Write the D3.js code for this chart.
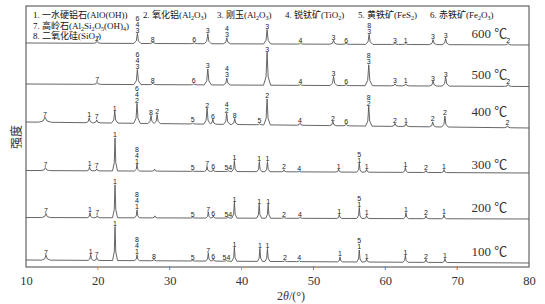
<!DOCTYPE html>
<html>
<head>
<meta charset="utf-8">
<script src="https://cdn.jsdelivr.net/npm/d3@7"></script>
<style>
  body { margin: 0; background: #fff; }
</style>
</head>
<body>
<div id="chart"></div>
<script>
// phase legend (subscripts written as _n)
const phaseNames = ["一水硬铝石(AlO(OH))", "氧化铝(Al_2O_3)", "刚玉(Al_2O_3)", "锐钛矿(TiO_2)",
    "黄铁矿(FeS_2)", "赤铁矿(Fe_2O_3)", "高岭石(Al_2Si_2O_5(OH)_4)", "二氧化硅(SiO_2)"];

const temps = ["600 ℃", "500 ℃", "400 ℃", "300 ℃", "200 ℃", "100 ℃"];
// background intensity at 2θ = 10° and at 2θ = 80°
const baseStart = [224, 183, 145, 96.5, 49.5, 7];
const baseEnd   = [222, 180.5, 139, 94, 48, 4];
// height of the temperature tag above the background at the right end
const tempLevel = [12, 12, 16.5, 9, 12, 12];
// half width of a peak foot, degrees
const halfWidth = [0.5, 0.5, 0.45, 0.35, 0.35, 0.35];

// peaks: [2θ, height above background, phase label (top to bottom, "/" separated), optional half width]
const peaks600 = [[19.9, 2, "7"], [25.5, 10, "6/4/3"], [27.65, 1.5, "8"], [33.4, 1, "6"], [35.3, 10, "3"],
    [37.95, 6, "4/3"], [43.55, 14.5, "3"], [48.2, 1, "4"], [52.8, 4, "3"], [54.55, 1, "6"], [57.75, 10, "8/3"],
    [61.35, 1, "3"], [62.85, 1, "1"], [66.65, 5, "3"], [68.4, 6, "3"], [77.1, 1.5, "2"]];
const peaks500 = [[19.9, 2, "7"], [25.5, 15, "6/4/3"], [27.65, 1.5, "8"], [33.35, 1, "6"], [35.3, 16, "3"],
    [37.95, 7, "4/3"], [43.55, 33, "3"], [48.2, 1, "4"], [52.8, 9, "3"], [54.55, 1, "6"], [57.7, 21, "8/3"],
    [61.35, 2, "3"], [62.85, 2, "1"], [66.65, 5, "3"], [68.4, 9, "3"], [77.1, 2, "2"]];
const peaks400 = [[12.65, 5, "7", 0.9], [18.8, 5, "1"], [19.85, 3, "7"], [22.35, 12, "1"], [25.45, 20, "6/4/2"],
    [27.4, 8, "8"], [28.25, 9, "2"], [33.2, 1, "5"], [35.2, 16, "2"], [36.0, 5, "6"], [37.93, 11, "4/2"],
    [39.05, 6, "8"], [42.5, 1, "5"], [43.55, 26, "2"], [48.13, 2, "4"], [52.7, 4.5, "2"], [54.55, 1.5, "6"],
    [57.7, 20, "8/2"], [61.35, 3, "2"], [62.88, 3, "1"], [66.6, 5, "2"], [68.3, 11, "2"], [77.0, 2, "2"]];
const peaks300 = [[12.7, 3, "7", 0.6], [18.85, 4, "1"], [19.85, 2, "7"], [22.39, 33, "1"], [25.45, 7, "8/4/1"],
    [27.9, 2, ""], [33.2, 0.5, "5"], [35.2, 5, "7"], [36.05, 2, "6"], [38.15, 1, "54"], [39.0, 11, "1"],
    [42.47, 10, "1"], [43.6, 10, "1"], [45.9, 2, "2"], [48.03, 0.5, "4"], [53.5, 3, "1"], [56.38, 9, "5/1"],
    [57.4, 3, "1"], [62.8, 5, "1"], [65.66, 2, "2"], [68.17, 3, "1"]];
const peaks200 = [[12.78, 4, "7", 0.6], [18.9, 5, "1"], [19.92, 2, "7"], [22.39, 33, "1"], [25.45, 8, "8/4/1"],
    [27.95, 2, ""], [33.2, 0.5, "5"], [35.37, 6, "7"], [36.06, 2, "6"], [38.15, 1, "54"], [39.0, 16, "1"],
    [42.45, 14, "1"], [43.7, 14, "1"], [45.9, 1, "2"], [48.13, 1, "4"], [53.6, 4, "1"], [56.38, 11, "5/1"],
    [57.4, 3, "1"], [62.88, 6, "1"], [65.66, 3, "2"], [68.17, 4, "1"]];
const peaks100 = [[12.78, 5, "7", 0.6], [19.0, 6, "1"], [19.84, 3, "7"], [22.39, 34, "1"], [25.45, 6, "8/4/1"],
    [27.8, 1.5, "8"], [33.2, 0.5, "5"], [35.37, 8, "7"], [36.06, 2, "6"], [37.9, 1, "54"], [39.0, 14, "1"],
    [42.55, 13, "1"], [43.6, 13, "1"], [46.04, 1, "2"], [48.03, 1, "4"], [53.7, 5, "1"], [56.38, 12, "5/1"],
    [57.4, 3, "1"], [62.8, 7, "1"], [65.66, 3, "2"], [68.3, 4, "1"]];
const peakSets = [peaks600, peaks500, peaks400, peaks300, peaks200, peaks100];

const xTicks = [10, 20, 30, 40, 50, 60, 70, 80];
const tickColors = {20: "#e08a3c", 30: "#4a86c8", 40: "#e08a3c", 50: "#d9622b", 60: "#4a86c8", 70: "#d9622b"};

const W = 545, H = 304;
const plotL = 26, plotR = 529, plotT = 6, plotB = 267;

const svg = d3.select("#chart").append("svg")
    .attr("width", W)
    .attr("height", H);

const x = d3.scaleLinear().domain([10, 80]).range([plotL, plotR]);
const y = d3.scaleLinear().domain([0, 261]).range([plotB, plotT]);

const serif = "'Liberation Serif', 'Times New Roman', 'Noto Sans CJK SC', serif";
const cjk = "'Liberation Serif', 'Noto Sans CJK SC', serif";

// frame
svg.append("rect")
    .attr("x", plotL).attr("y", plotT)
    .attr("width", plotR - plotL).attr("height", plotB - plotT)
    .attr("fill", "none")
    .attr("stroke", "#444")
    .attr("stroke-width", 1);

// peak shape: sharp top, wide foot
function peakValue(p, t, w0) {
    const w = p[3] || w0;
    const d = Math.abs(t - p[0]);
    if (d >= w) return 0;
    if (d <= 0.3 * w) return p[1] * (1 - 0.75 * d / (0.3 * w));
    return 0.25 * p[1] * (w - d) / (0.7 * w);
}

peakSets.forEach(function(peaks, i) {
    const w0 = halfWidth[i];
    const base = t => baseStart[i] + (baseEnd[i] - baseStart[i]) * (t - 10) / 70;

    let ts = [10, 80];
    peaks.forEach(function(p) {
        const w = p[3] || w0;
        ts.push(p[0] - w, p[0] - 0.3 * w, p[0], p[0] + 0.3 * w, p[0] + w);
    });
    ts = ts.filter(t => t >= 10 && t <= 80).sort((a, b) => a - b);
    const pts = ts.map(t => ({t: t, v: base(t) + d3.sum(peaks, p => peakValue(p, t, w0))}));

    const line = d3.line()
        .x(d => x(d.t))
        .y(d => y(d.v));

    svg.append("path")
        .datum(pts)
        .attr("fill", "none")
        .attr("stroke", "#555")
        .attr("stroke-width", 0.9)
        .attr("stroke-linejoin", "round")
        .attr("d", line);

    // phase numbers over peaks
    peaks.filter(p => p[2]).forEach(function(p) {
        const lines = p[2].split("/");
        const peakTop = y(base(p[0]) + p[1]);
        lines.forEach(function(s, j) {
            svg.append("text")
                .attr("x", x(p[0]))
                .attr("y", peakTop - 0.5 - (lines.length - 1 - j) * 6)
                .attr("text-anchor", "middle")
                .attr("font-family", "'Liberation Sans', Arial, sans-serif")
                .attr("font-size", "7px")
                .attr("fill", "#222")
                .text(s);
        });
    });

    svg.append("text")
        .attr("x", x(72))
        .attr("y", y(baseEnd[i] + tempLevel[i]))
        .attr("dy", "0.35em")
        .attr("font-family", serif)
        .attr("font-size", "13px")
        .attr("fill", "#333")
        .text(temps[i]);
});

// legend
function addFormula(sel, str) {
    let back = 0;
    str.split(/(_\d)/).forEach(function(part) {
        if (!part) return;
        if (part[0] === "_") {
            sel.append("tspan")
                .attr("font-size", "6px")
                .attr("dy", 2 + back)
                .text(part[1]);
            back = -2;
        } else {
            sel.append("tspan").attr("dy", back).text(part);
            back = 0;
        }
    });
}

const legendX = [33, 143, 217, 285, 358, 430, 33, 33];
const legendY = [17.5, 17.5, 17.5, 17.5, 17.5, 17.5, 28.5, 38.5];
phaseNames.forEach(function(name, i) {
    const t = svg.append("text")
        .attr("x", legendX[i])
        .attr("y", legendY[i])
        .attr("font-family", cjk)
        .attr("font-size", "9px")
        .attr("fill", "#111");
    t.append("tspan").text((i + 1) + ". ");
    addFormula(t, name);
});

// x axis
const xAxis = svg.append("g")
    .attr("transform", `translate(0,${plotB})`)
    .call(d3.axisBottom(x).tickValues(xTicks).tickSize(0).tickPadding(9).tickFormat(d3.format("d")));
xAxis.select(".domain").remove();
xAxis.selectAll("text")
    .attr("font-family", serif)
    .attr("font-size", "12.5px")
    .attr("fill", "#333");

svg.selectAll(".xtick")
    .data(xTicks.filter(d => tickColors[d]))
    .enter().append("line")
    .attr("class", "xtick")
    .attr("x1", d => x(d)).attr("x2", d => x(d))
    .attr("y1", plotB - 1).attr("y2", plotB + 3)
    .attr("stroke", d => tickColors[d])
    .attr("stroke-width", 1);

const xt = svg.append("text")
    .attr("x", 291)
    .attr("y", 300)
    .attr("text-anchor", "middle")
    .attr("font-family", serif)
    .attr("font-size", "12px")
    .attr("fill", "#333");
xt.append("tspan").text("2");
xt.append("tspan").attr("font-style", "italic").text("θ");
xt.append("tspan").text("/(°)");

svg.append("text")
    .attr("transform", "translate(17,137) rotate(-90)")
    .attr("text-anchor", "middle")
    .attr("dy", "0.35em")
    .attr("font-family", "'Noto Sans CJK SC', sans-serif")
    .attr("font-size", "12px")
    .attr("fill", "#333")
    .text("强度");
</script>
</body>
</html>
